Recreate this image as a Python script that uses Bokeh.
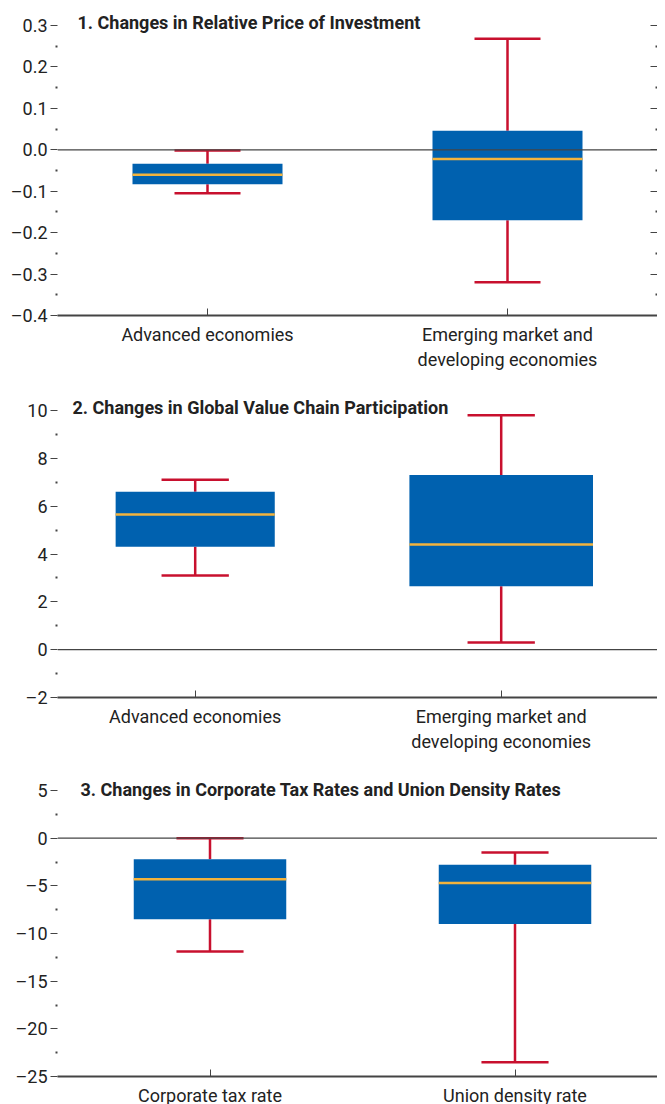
from bokeh.plotting import figure
from bokeh.layouts import column
from bokeh.models import FixedTicker, Span, Label, LinearAxis
from bokeh.embed import file_html
from bokeh.resources import INLINE

# Data
cats1 = ["Advanced economies", "Emerging market and\ndeveloping economies"]
low1 = [-0.105, -0.32]
q1_1 = [-0.083, -0.17]
med1 = [-0.060, -0.022]
q3_1 = [-0.034, 0.046]
high1 = [-0.002, 0.268]

cats2 = ["Advanced economies", "Emerging market and\ndeveloping economies"]
low2 = [3.1, 0.3]
q1_2 = [4.3, 2.65]
med2 = [5.65, 4.4]
q3_2 = [6.6, 7.3]
high2 = [7.1, 9.8]

cats3 = ["Corporate tax rate", "Union density rate"]
low3 = [-11.9, -23.5]
q1_3 = [-8.5, -9.0]
med3 = [-4.3, -4.7]
q3_3 = [-2.2, -2.8]
high3 = [0.0, -1.5]

FONT = "Roboto"
BLUE = "#0061AF"
RED = "#C8102E"
GOLD = "#F2B33D"
GREY = "#444444"
PAD = 16  # extra room above the top tick so the title is not clipped


def fmt(v):
    s = ("%g" % v)
    return s.replace("-", "\u2013")


def panel(title, cats, low, q1, med, q3, high, yr, major, minor, labels,
          frame_h, top, bottom, left, widths, tx, ty, xr=(0, 2)):
    ytop = yr[1] + PAD * (yr[1] - yr[0]) / frame_h
    p = figure(frame_width=665 - left - 8, frame_height=frame_h + PAD,
               x_range=xr, y_range=(yr[0], ytop),
               output_backend="svg", toolbar_location=None,
               min_border_left=left, min_border_right=0,
               min_border_top=top - PAD, min_border_bottom=bottom)
    p.outline_line_color = None
    p.grid.visible = False
    xs = [0.5, 1.5]

    p.add_layout(Span(location=0, dimension="width", line_color=GREY, line_width=1.2))
    p.segment(x0=xs, x1=xs, y0=low, y1=q1, line_color=RED, line_width=2.5)
    p.segment(x0=xs, x1=xs, y0=q3, y1=high, line_color=RED, line_width=2.5)
    cw = 0.11
    p.segment(x0=[x - cw for x in xs], x1=[x + cw for x in xs], y0=low, y1=low,
              line_color=RED, line_width=2.5)
    p.segment(x0=[x - cw for x in xs], x1=[x + cw for x in xs], y0=high, y1=high,
              line_color=RED, line_width=2.5)
    p.vbar(x=xs, bottom=q1, top=q3, width=widths, fill_color=BLUE, line_color=None)
    p.segment(x0=[x - w / 2 for x, w in zip(xs, widths)],
              x1=[x + w / 2 for x, w in zip(xs, widths)],
              y0=med, y1=med, line_color=GOLD, line_width=2.5)

    ya = p.yaxis[0]
    ya.ticker = FixedTicker(ticks=major, minor_ticks=minor)
    ya.major_label_overrides = {m: l for m, l in zip(major, labels)}
    ya.axis_line_color = None
    ya.major_tick_in = 0
    ya.major_tick_out = 7
    ya.minor_tick_in = 0
    ya.minor_tick_out = 2
    ya.major_tick_line_color = GREY
    ya.minor_tick_line_color = GREY
    ya.minor_tick_line_width = 2
    ya.major_label_text_font = FONT
    ya.major_label_text_font_size = "18px"
    ya.major_label_text_color = "#222222"
    ya.major_label_standoff = 3

    ra = LinearAxis(ticker=FixedTicker(ticks=major, minor_ticks=minor))
    ra.axis_line_color = None
    ra.major_tick_in = 7
    ra.major_tick_out = 0
    ra.minor_tick_in = 2
    ra.minor_tick_out = 0
    ra.minor_tick_line_width = 2
    ra.major_tick_line_color = GREY
    ra.minor_tick_line_color = GREY
    ra.major_label_text_font_size = "0px"
    ra.major_label_standoff = 0
    p.add_layout(ra, "right")

    xa = p.xaxis[0]
    xa.ticker = FixedTicker(ticks=xs, minor_ticks=[])
    xa.major_label_overrides = {0.5: cats[0], 1.5: cats[1]}
    xa.axis_line_color = GREY
    xa.axis_line_width = 2
    xa.major_tick_in = 7
    xa.major_tick_out = 0
    xa.minor_tick_line_color = None
    xa.major_tick_line_color = GREY
    xa.major_label_text_font = FONT
    xa.major_label_text_font_size = "18px"
    xa.major_label_text_color = "#222222"
    xa.major_label_standoff = 8

    p.add_layout(Label(x=tx, y=frame_h + ty, x_units="screen",
                       y_units="screen", text=title, text_font=FONT,
                       text_font_style="bold", text_font_size="18px",
                       text_color="#222222", text_baseline="middle"))
    return p


maj1 = [-0.4, -0.3, -0.2, -0.1, 0.0, 0.1, 0.2, 0.3]
min1 = [-0.35, -0.25, -0.15, -0.05, 0.05, 0.15, 0.25]
maj2 = [-2, 0, 2, 4, 6, 8, 10]
min2 = [-1, 1, 3, 5, 7, 9]
maj3 = [-25, -20, -15, -10, -5, 0, 5]
min3 = [-22.5, -17.5, -12.5, -7.5, -2.5, 2.5]

p1 = panel("1. Changes in Relative Price of Investment", cats1, low1, q1_1, med1,
           q3_1, high1, (-0.4, 0.3), maj1, min1, [fmt(v) if v != 0 else "0.0" for v in maj1],
           290, 25, 60, 57, [0.5, 0.5], 20, 3)
p2 = panel("2. Changes in Global Value Chain Participation", cats2, low2, q1_2, med2,
           q3_2, high2, (-2, 10), maj2, min2, [fmt(v) for v in maj2],
           287, 35, 53, 45, [0.52, 0.6], 15, 3, xr=(0.05, 2.05))
p3 = panel("3. Changes in Corporate Tax Rates and Union Density Rates", cats3, low3,
           q1_3, med3, q3_3, high3, (-25, 5), maj3, min3, [fmt(v) for v in maj3],
           286, 36, 32, 47, [0.5, 0.5], 23, 1)

p = column(p1, p2, p3, spacing=0)
open("out.html", "w").write(file_html(p, INLINE))
